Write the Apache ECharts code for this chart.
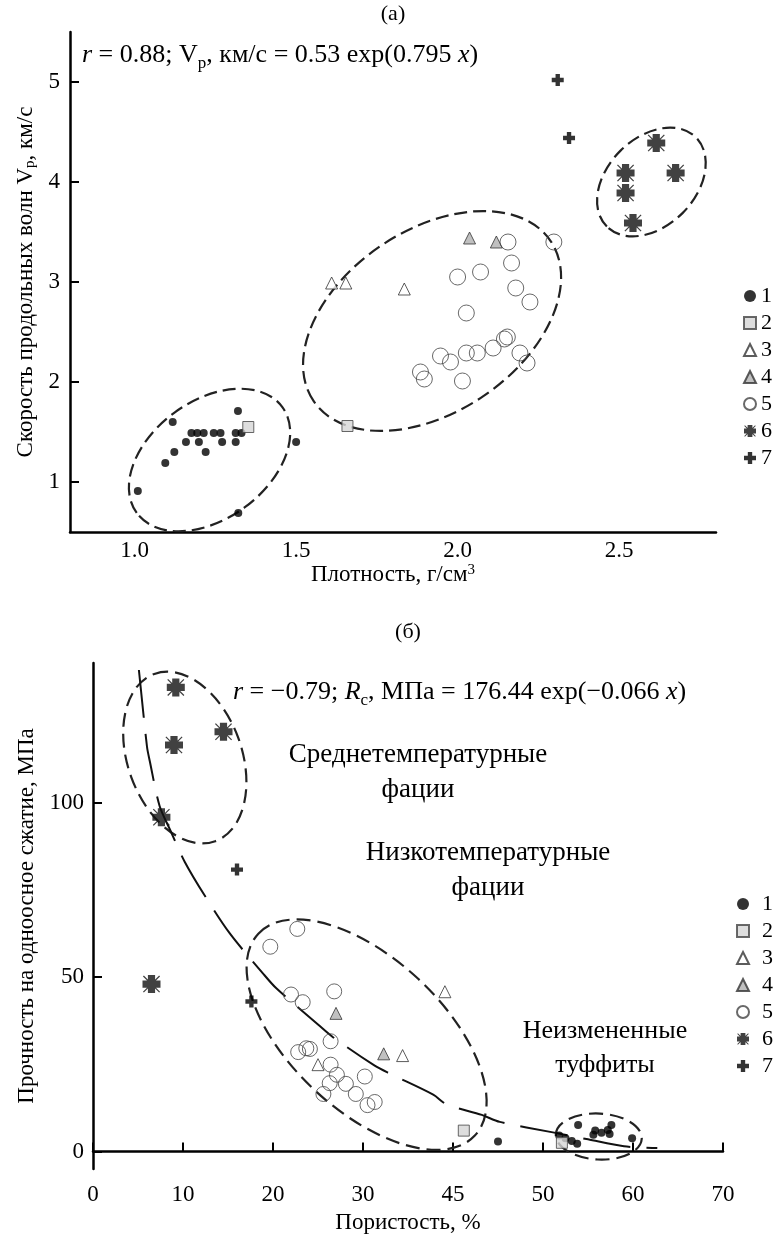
<!DOCTYPE html>
<html>
<head>
<meta charset="utf-8">
<script src="https://cdn.jsdelivr.net/npm/echarts@6/dist/echarts.min.js"></script>
<style>
html, body { margin: 0; padding: 0; background: #fff; }
#chart { width: 778px; height: 1236px; }
</style>
</head>
<body>
<div id="chart"></div>
<script>
// (а) density, g/cm3 vs P-wave velocity, km/s -- one x/y pair per sample group
const densG1 = [1.01, 1.095, 1.118, 1.123, 1.159, 1.176, 1.194, 1.214, 1.199, 1.22, 1.245, 1.266, 1.271, 1.313, 1.313, 1.32, 1.331, 1.321, 1.50];
const vpG1   = [0.91, 1.19, 1.60, 1.30, 1.40, 1.49, 1.49, 1.49, 1.40, 1.30, 1.49, 1.49, 1.40, 1.49, 1.40, 1.71, 1.49, 0.69, 1.40];
const densG2 = [1.352, 1.659];
const vpG2   = [1.55, 1.56];
const densG3 = [1.61, 1.654, 1.835];
const vpG3   = [2.99, 2.99, 2.93];
const densG4 = [2.037, 2.12];
const vpG4   = [3.44, 3.40];
const densG5 = [2.156, 2.298, 2.167, 2.00, 2.071, 2.18, 2.224, 2.027, 2.154, 2.145, 2.11, 2.061, 2.027, 1.947, 1.978, 2.193, 2.215, 1.885, 1.897, 2.015];
const vpG5   = [3.40, 3.40, 3.19, 3.05, 3.10, 2.94, 2.80, 2.69, 2.45, 2.43, 2.34, 2.29, 2.29, 2.26, 2.20, 2.29, 2.19, 2.10, 2.03, 2.01];
const densG6 = [2.615, 2.52, 2.675, 2.52, 2.543];
const vpG6   = [4.39, 4.09, 4.09, 3.89, 3.59];
const densG7 = [2.31, 2.345];
const vpG7   = [5.02, 4.44];

// (б) porosity, % vs uniaxial compressive strength, MPa
const porG1 = [45.0, 51.8, 52.5, 53.2, 53.8, 53.9, 55.6, 55.8, 56.5, 57.2, 57.6, 57.4, 59.9];
const strG1 = [2.9, 4.6, 3.8, 3.0, 2.2, 7.6, 4.8, 6.0, 5.4, 6.2, 7.6, 5.0, 3.8];
const porG2 = [41.2, 52.1];
const strG2 = [6.0, 2.5];
const porG3 = [39.1, 25.0, 34.4];
const strG3 = [45.8, 24.9, 27.5];
const porG4 = [27.0, 32.3];
const strG4 = [39.6, 28.0];
const porG5 = [19.7, 22.7, 22.0, 23.3, 26.8, 26.4, 22.8, 23.7, 24.1, 26.4, 27.1, 30.2, 26.3, 28.1, 29.2, 25.6, 31.3, 30.5];
const strG5 = [58.7, 63.8, 45.0, 42.8, 45.9, 31.6, 28.5, 29.6, 29.4, 24.9, 22.0, 21.5, 19.6, 19.4, 16.5, 16.5, 14.2, 13.3];
const porG6 = [9.2, 9.0, 14.5, 7.6, 6.5];
const strG6 = [133, 116.5, 120.3, 95.8, 48];
const porG7 = [16.0, 17.6];
const strG7 = [80.8, 43.0];

// fitted curve of (б)
const curvePor = [5.1, 6.0, 6.3, 7.4, 8.6, 10.2, 12.5, 15.2, 18.9, 20.4, 25.0, 26.7, 31.3, 33.0, 37.8, 39.3, 43.2, 45.2, 51.1, 55.0, 59.0, 62.7];
const curveStr = [138, 116, 112, 99, 92, 83, 73, 62.5, 51, 46.7, 36.4, 32.7, 24.6, 22.3, 16.3, 13.5, 10.5, 8.5, 5.5, 3.5, 1.5, 1.0];

// ticks
const densTicks = [1.0, 1.5, 2.0, 2.5];
const vpTicks = [1, 2, 3, 4, 5];
const porTicks = [0, 10, 20, 30, 40, 50, 60, 70];
const porTickLabels = ['0', '10', '20', '30', '45', '50', '60', '70'];
const strTicks = [0, 50, 100];
const groupNames = ['1', '2', '3', '4', '5', '6', '7'];

// dashed outlines: centre in data units, then radii (px) and tilt (deg, counter-clockwise)
const ellipseGrid = [0, 0, 0, 1, 1, 1];
const ellipseX = [1.232, 1.921, 2.60, 10.2, 30.4, 56.2];
const ellipseY = [1.22, 2.61, 4.0, 112.9, 33.5, 4.3];

const FONT = '"Liberation Serif", "DejaVu Serif", serif';
const ellipseLook = [
    { rx: 90, ry: 59, deg: 36, dash: [13, 6] },
    { rx: 143, ry: 91, deg: 34, dash: [13, 6] },
    { rx: 63, ry: 44, deg: 45, dash: [13, 6] },
    { rx: 89, ry: 57, deg: -70, dash: [14, 7] },
    { rx: 148, ry: 76, deg: -43, dash: [14, 7] },
    { rx: 43, ry: 23, deg: -3, dash: [14, 7] }
];

const PLUS = 'path://M8,1 H16 V8 H23 V16 H16 V23 H8 V16 H1 V8 H8 Z';
const STAR = 'path://M8,2 H16 V22 H8 Z M2,8 H22 V16 H2 Z M2.5,3.5 L3.5,2.5 L21.5,20.5 L20.5,21.5 Z M20.5,2.5 L21.5,3.5 L3.5,21.5 L2.5,20.5 Z';
const groupLook = [
    { symbol: 'circle', size: 8, itemStyle: { color: '#000' } },
    { symbol: 'rect', size: 11, itemStyle: { color: '#d6d6d6', borderColor: '#444', borderWidth: 1 } },
    { symbol: 'triangle', size: 12, itemStyle: { color: '#fff', borderColor: '#333', borderWidth: 1 } },
    { symbol: 'triangle', size: 12, itemStyle: { color: '#b0b0b0', borderColor: '#333', borderWidth: 1 } },
    { symbol: 'circle', size: 16, itemStyle: { color: 'rgba(255,255,255,0)', borderColor: '#444', borderWidth: 1 } },
    { symbol: STAR, size: 18, itemStyle: { color: '#111' } },
    { symbol: PLUS, size: 12, itemStyle: { color: '#000' } }
];

const aXs = [densG1, densG2, densG3, densG4, densG5, densG6, densG7];
const aYs = [vpG1, vpG2, vpG3, vpG4, vpG5, vpG6, vpG7];
const bXs = [porG1, porG2, porG3, porG4, porG5, porG6, porG7];
const bYs = [strG1, strG2, strG3, strG4, strG5, strG6, strG7];

function zip(xs, ys) {
    return xs.map((x, i) => [x, ys[i]]);
}

let series = [];
for (let g = 0; g < 2; g++) {
    groupNames.forEach((name, i) => {
        const look = groupLook[i];
        series.push({
            name: name,
            type: 'scatter',
            xAxisIndex: g,
            yAxisIndex: g,
            symbol: look.symbol,
            symbolSize: g === 1 && i === 4 ? 15 : look.size,
            itemStyle: look.itemStyle,
            data: g === 0 ? zip(aXs[i], aYs[i]) : zip(bXs[i], bYs[i]),
            z: 3
        });
    });
}
series.push({
    type: 'line',
    xAxisIndex: 1,
    yAxisIndex: 1,
    data: zip(curvePor, curveStr),
    symbol: 'none',
    smooth: 0.3,
    lineStyle: { color: '#111', width: 2, type: [48, 16] },
    silent: true,
    z: 2
});

const axisLine = { show: true, lineStyle: { color: '#000', width: 2.5 } };
const labelStyle = { color: '#000', fontFamily: FONT, fontSize: 23 };
const nameStyle = {
    color: '#000', fontFamily: FONT, fontSize: 23,
    rich: {
        sub: { fontFamily: FONT, fontSize: 15, lineHeight: 15, verticalAlign: 'bottom', color: '#000' },
        sup: { fontFamily: FONT, fontSize: 15, lineHeight: 15, verticalAlign: 'top', color: '#000' }
    }
};
const legendBase = {
    orient: 'vertical', itemWidth: 12, itemHeight: 12, itemGap: 5,
    data: groupNames, selectedMode: false
};

const option = {
    animation: false,
    backgroundColor: '#fff',
    grid: [
        { left: 70, top: 32, width: 646, height: 500 },
        { left: 93, top: 663, width: 630, height: 506 }
    ],
    xAxis: [
        {
            gridIndex: 0, type: 'value', min: 0.8, max: 2.8,
            axisLine: axisLine, splitLine: { show: false },
            axisTick: { show: false },
            axisLabel: Object.assign({ margin: 7, customValues: densTicks, formatter: v => v.toFixed(1) }, labelStyle),
            name: 'Плотность, г/см{sup|3}', nameLocation: 'middle', nameGap: 31, nameTextStyle: nameStyle
        },
        {
            gridIndex: 1, type: 'value', min: 0, max: 70,
            axisLine: axisLine, splitLine: { show: false },
            axisTick: { show: true, inside: true, length: 9, customValues: porTicks, lineStyle: { color: '#000', width: 2 } },
            axisLabel: Object.assign({ margin: 14, customValues: porTicks, formatter: v => porTickLabels[porTicks.indexOf(v)] }, labelStyle),
            name: 'Пористость, %', nameLocation: 'middle', nameGap: 42, nameTextStyle: nameStyle
        }
    ],
    yAxis: [
        {
            gridIndex: 0, type: 'value', min: 0.5, max: 5.5,
            axisLine: axisLine, splitLine: { show: false },
            axisTick: { show: true, inside: true, length: 9, customValues: vpTicks, lineStyle: { color: '#000', width: 2 } },
            axisLabel: Object.assign({ margin: 10, customValues: vpTicks }, labelStyle),
            name: 'Скорость продольных волн V{sub|p}, км/с', nameLocation: 'middle', nameGap: 30, nameTextStyle: nameStyle
        },
        {
            gridIndex: 1, type: 'value', min: -5, max: 140,
            axisLine: axisLine, splitLine: { show: false },
            axisTick: { show: true, inside: true, length: 9, customValues: strTicks, lineStyle: { color: '#000', width: 2 } },
            axisLabel: Object.assign({ margin: 9, customValues: strTicks }, labelStyle),
            name: 'Прочность на одноосное сжатие, МПа', nameLocation: 'middle', nameGap: 52, nameTextStyle: nameStyle
        }
    ],
    legend: [
        Object.assign({ left: 738, top: 280, textStyle: { fontFamily: FONT, fontSize: 22, color: '#000' } }, legendBase),
        Object.assign({ left: 731, top: 888, textStyle: { fontFamily: FONT, fontSize: 22, color: '#000', padding: [0, 0, 0, 8] } }, legendBase)
    ],
    series: series
};

const chart = echarts.init(document.getElementById('chart'));
chart.setOption(option);

// annotations: outlines need pixel positions of their data centres
function label(x, y, text, size, align) {
    return {
        type: 'text', x: x, y: y, silent: true,
        style: {
            text: text, fontFamily: FONT, fontSize: size, lineHeight: size + 8, fill: '#000',
            align: align || 'left', verticalAlign: 'middle',
            rich: {
                i: { fontFamily: FONT, fontSize: size, fontStyle: 'italic', fill: '#000' },
                sub: { fontFamily: FONT, fontSize: 17, lineHeight: 17, verticalAlign: 'bottom', fill: '#000' }
            }
        }
    };
}

let graphics = [
    label(393, 14, '(а)', 22, 'center'),
    label(408, 632, '(б)', 22, 'center'),
    label(82, 55, '{i|r} = 0.88; V{sub|p}, км/с = 0.53 exp(0.795 {i|x})', 26),
    label(233, 692, '{i|r} = −0.79; {i|R}{sub|c}, МПа = 176.44 exp(−0.066 {i|x})', 26),
    label(418, 772, 'Среднетемпературные\nфации', 27, 'center'),
    label(488, 870, 'Низкотемпературные\nфации', 27, 'center'),
    label(605, 1048, 'Неизмененные\nтуффиты', 26, 'center')
];

ellipseX.forEach((ex, k) => {
    const p = chart.convertToPixel({ gridIndex: ellipseGrid[k] }, [ex, ellipseY[k]]);
    const look = ellipseLook[k];
    graphics.push({
        type: 'ellipse', x: p[0], y: p[1], rotation: look.deg * Math.PI / 180, silent: true, z: 1,
        shape: { cx: 0, cy: 0, rx: look.rx, ry: look.ry },
        style: { fill: null, stroke: '#222', lineWidth: 2.2, lineDash: look.dash }
    });
});

chart.setOption({ graphic: graphics });
</script>
</body>
</html>
